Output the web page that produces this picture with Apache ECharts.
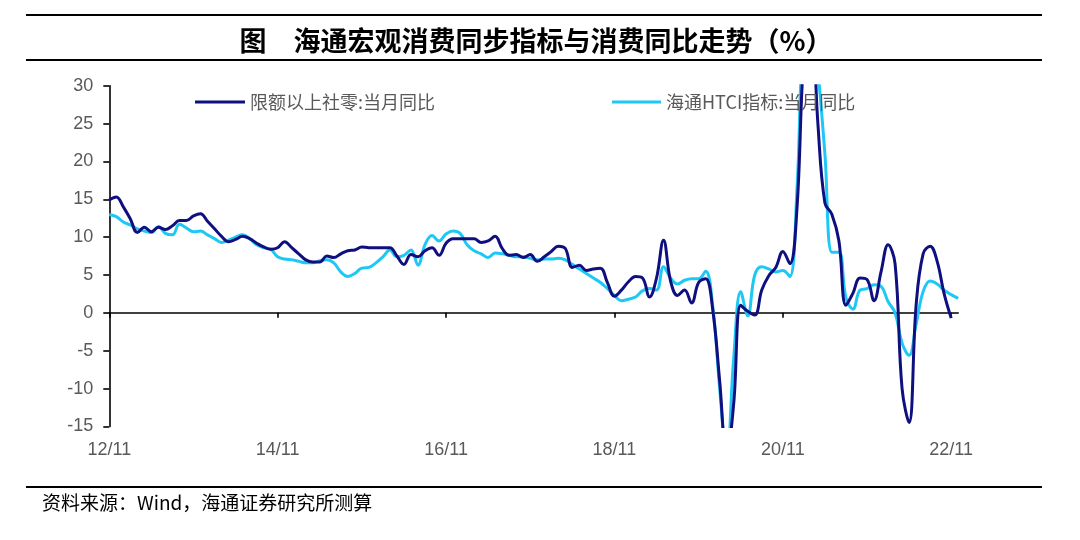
<!DOCTYPE html>
<html>
<head>
<meta charset="utf-8">
<script src="https://cdn.jsdelivr.net/npm/echarts@6/dist/echarts.min.js"></script>
<style>
html,body{margin:0;padding:0;background:#fff;}
#c{width:1080px;height:540px;}
</style>
</head>
<body>
<div id="c"></div>
<script>
// Monthly categories from 2012-11 to 2022-12 (yy/mm)
const startYear = 2012, startMonth = 11, monthCount = 122;
const months = [];
for (let k = 0; k < monthCount; k++) {
  const m0 = startMonth - 1 + k;
  const y = startYear + Math.floor(m0 / 12);
  const m = (m0 % 12) + 1;
  months.push(String(y).slice(2) + '/' + (m < 10 ? '0' + m : m));
}

const seriesNames = ['限额以上社零:当月同比', '海通HTCI指标:当月同比'];

// 限额以上社零:当月同比 (%)
const retailYoY = [
  14.9, 15.3, 14.0, 12.4, 10.6, 11.3, 10.7, 11.3, 11.0, 11.5,
  12.2, 12.2, 12.8, 13.1, 12.1, 11.1, 10.1, 9.4, 9.7, 10.1,
  9.8, 9.2, 8.7, 8.4, 8.6, 9.4, 8.6, 7.8, 7.0, 6.7,
  6.7, 7.5, 7.3, 7.8, 8.2, 8.3, 8.7, 8.6, 8.6, 8.6,
  8.6, 7.5, 6.4, 7.7, 7.4, 8.2, 8.6, 7.6, 9.2, 9.8,
  9.8, 9.8, 9.8, 9.3, 9.5, 10.1, 8.5, 7.6, 7.7, 7.3,
  7.7, 6.8, 7.4, 8.1, 8.8, 8.5, 6.0, 6.3, 5.6, 5.8,
  5.9, 4.0, 2.2, 3.0, 4.1, 4.8, 4.6, 2.1, 4.6, 9.6,
  4.2, 2.3, 3.0, 1.3, 4.0, 4.5, 0.5, -9, -19, -12,
  1.0, 0.2, -0.3, 3.0, 4.9, 6.0, 8.1, 6.5, 13.5, 34,
  40, 25, 14.5, 13.0, 9.5, 1.0, 2.6, 4.6, 4.4, 1.6,
  5.4, 9.0, 6.5, -10.0, -14.5, 1.0, 7.8, 8.8, 6.8, 2.5,
  -0.7, null
];

// 海通HTCI指标:当月同比 (%)
const htciYoY = [
  13.0, 12.7, 12.0, 11.6, 11.1, 10.8, 10.6, 11.4, 10.5, 10.3,
  11.7, 11.2, 10.7, 10.8, 10.3, 9.8, 9.3, 9.6, 10.0, 10.3,
  9.8, 9.0, 8.6, 8.4, 7.4, 7.1, 7.0, 6.8, 6.6, 6.6,
  6.9, 7.0, 6.6, 5.4, 4.8, 5.2, 5.9, 6.0, 6.6, 7.4,
  8.3, 7.4, 7.6, 8.3, 6.3, 9.0, 10.2, 9.5, 10.4, 10.8,
  10.5, 9.0, 8.2, 7.8, 7.3, 7.9, 7.8, 7.6, 7.4, 7.4,
  7.2, 7.0, 7.1, 7.1, 7.2, 7.0, 6.4, 5.8, 5.2, 4.6,
  4.0, 3.2, 2.3, 1.6, 1.8, 2.1, 2.9, 3.2, 3.0, 6.1,
  4.6, 3.8, 4.3, 4.5, 4.5, 5.5, 1.0, -10, -19, -6,
  2.8, -0.4, 5.0, 6.1, 5.8, 5.4, 5.6, 4.8, 16, 38,
  40, 32, 21, 8.0, 8.0, 2.0, 0.5, 3.0, 3.2, 3.7,
  3.5, 1.5, 0.0, -4.0, -5.6, -1.5, 2.8, 4.2, 3.8, 3.0,
  2.4, 1.9
];

const yMin = -15, yMax = 30, yStep = 5;
const labelEvery = 24;

const chart = echarts.init(document.getElementById('c'), null, {renderer: 'canvas'});
const gray = '#595959';
const cjk = '"Noto Sans CJK SC", "Liberation Sans", sans-serif';
const latin = '"Liberation Sans", Arial, sans-serif';

chart.setOption({
  backgroundColor: '#ffffff',
  animation: false,
  title: {
    text: '图　海通宏观消费同步指标与消费同比走势（%）',
    left: 531, top: 22, textAlign: 'center',
    textStyle: {fontFamily: cjk, fontSize: 27, fontWeight: 'bold', color: '#000'}
  },
  legend: [
    {data: [seriesNames[0]], left: 190, top: 88, icon: 'rect', itemWidth: 50, itemHeight: 3, itemGap: 8,
     textStyle: {fontFamily: cjk, fontSize: 18, color: gray}},
    {data: [seriesNames[1]], left: 607, top: 88, icon: 'rect', itemWidth: 49, itemHeight: 3, itemGap: 8,
     textStyle: {fontFamily: cjk, fontSize: 18, color: gray}}
  ],
  grid: {left: 109.3, right: 121.8, top: 85.7, bottom: 113.6, containLabel: false},
  xAxis: [
    {
      type: 'category', data: months, boundaryGap: false,
      axisLine: {onZero: true, lineStyle: {color: '#000', width: 1.6}},
      axisTick: {show: true, interval: labelEvery - 1, length: 5, lineStyle: {color: '#000', width: 1.6}},
      axisLabel: {show: false},
      splitLine: {show: false}
    },
    {
      type: 'category', data: months, boundaryGap: false, position: 'bottom',
      axisLine: {show: false, onZero: false},
      axisTick: {show: false},
      axisLabel: {interval: labelEvery - 1, margin: 15, color: gray, fontFamily: latin, fontSize: 18},
      splitLine: {show: false}
    }
  ],
  yAxis: {
    type: 'value', min: yMin, max: yMax, interval: yStep,
    axisLine: {show: true, lineStyle: {color: '#000', width: 1.6}},
    axisTick: {show: true, length: 6, lineStyle: {color: '#000', width: 1.6}},
    axisLabel: {margin: 16, color: gray, fontFamily: latin, fontSize: 18},
    splitLine: {show: false}
  },
  series: [
    {
      name: seriesNames[0], type: 'line', data: retailYoY, xAxisIndex: 0,
      smooth: 0.4, showSymbol: false, symbol: 'none', connectNulls: false, clip: true,
      lineStyle: {color: '#0F0F80', width: 3}, itemStyle: {color: '#0F0F80'}, z: 3
    },
    {
      name: seriesNames[1], type: 'line', data: htciYoY, xAxisIndex: 0,
      smooth: 0.4, showSymbol: false, symbol: 'none', clip: true,
      lineStyle: {color: '#1EC8F5', width: 3}, itemStyle: {color: '#1EC8F5'}, z: 2
    }
  ],
  graphic: [
    {type: 'line', shape: {x1: 26, y1: 15, x2: 1042, y2: 15}, style: {stroke: '#000', lineWidth: 2.2}},
    {type: 'line', shape: {x1: 26, y1: 60, x2: 1042, y2: 60}, style: {stroke: '#000', lineWidth: 2.2}},
    {type: 'line', shape: {x1: 26, y1: 487, x2: 1042, y2: 487}, style: {stroke: '#000', lineWidth: 2.2}},
    {type: 'text', left: 42, top: 493,
     style: {text: '资料来源：Wind，海通证券研究所测算', fontFamily: cjk, fontSize: 19, fill: '#000'}}
  ]
});
</script>
</body>
</html>
